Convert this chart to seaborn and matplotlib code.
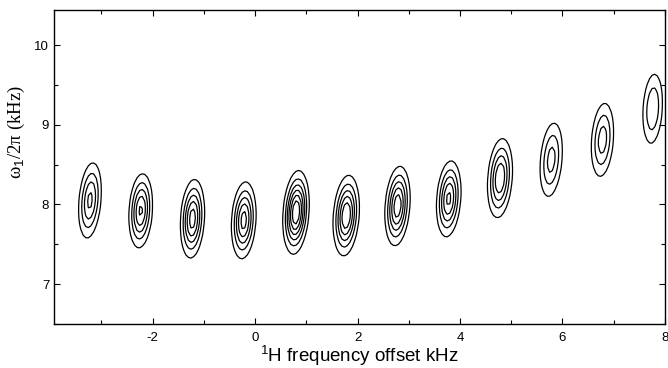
import numpy as np
import matplotlib
matplotlib.use("Agg")
import matplotlib.pyplot as plt
import seaborn as sns

# Peak parameters
peak_x = [-3.22, -2.23, -1.22, -0.22, 0.80, 1.78, 2.78, 3.78, 4.78, 5.78, 6.78, 7.76]
peak_y = [8.05, 7.92, 7.82, 7.80, 7.90, 7.86, 7.98, 8.07, 8.33, 8.56, 8.81, 9.20]
peak_amp = [4.3, 5.2, 5.6, 5.5, 7.0, 6.05, 5.8, 5.3, 5.05, 3.5, 3.6, 3.03]
peak_sx = [0.125, 0.125, 0.125, 0.128, 0.128, 0.132, 0.128, 0.128, 0.132, 0.132, 0.132, 0.125]
peak_sy = [0.275, 0.255, 0.265, 0.260, 0.265, 0.265, 0.265, 0.260, 0.275, 0.290, 0.285, 0.290]
peak_tilt = [0.12, 0.08, 0.08, 0.08, 0.10, 0.10, 0.10, 0.10, 0.10, 0.12, 0.10, 0.08]
contour_levels = [1, 2, 3, 4, 5, 6, 7]

x_ticks = [-2, 0, 2, 4, 6, 8]
y_ticks = [7, 8, 9, 10]
x_label = "$^1$H frequency offset kHz"
y_label = "ω$_1$/2π (kHz)"

sns.set_theme(style="ticks")
plt.rcParams["font.family"] = ["Liberation Sans", "DejaVu Sans"]
plt.rcParams["mathtext.fontset"] = "custom"
plt.rcParams["mathtext.rm"] = "Liberation Sans"
plt.rcParams["mathtext.it"] = "Liberation Sans"
plt.rcParams["axes.unicode_minus"] = False
for k in ["text.color", "axes.labelcolor", "xtick.color", "ytick.color", "axes.edgecolor"]:
    plt.rcParams[k] = "black"

fig = plt.figure(figsize=(6.68, 3.68), dpi=100)
ax = fig.add_axes([0.081, 0.1196, 0.9145, 0.8534])

gx = np.arange(-3.95, 8.1, 0.05)
gy = np.arange(6.5, 10.5, 0.07)
X, Y = np.meshgrid(gx, gy)
Z = np.zeros_like(X)
for px, py, a, sx, sy, t in zip(peak_x, peak_y, peak_amp, peak_sx, peak_sy, peak_tilt):
    dx = (X - px) - t * (Y - py)
    dy = Y - py
    Z += a * np.exp(-0.5 * ((dx / sx) ** 2 + (dy / sy) ** 2))

ax.contour(X, Y, Z, levels=contour_levels, colors="black", linewidths=0.9)

ax.set_xlim(-3.92, 8.0)
ax.set_ylim(6.52, 10.44)
ax.set_xticks(x_ticks)
ax.set_yticks(y_ticks)
ax.set_xticks(np.arange(-3, 9, 1), minor=True)
ax.set_yticks(np.arange(6.5, 10.5, 0.5), minor=True)
ax.tick_params(which="both", direction="in", top=True, right=True, width=0.8, colors="black")
ax.tick_params(which="major", length=4, labelsize=9.5)
ax.tick_params(which="minor", length=3)
ax.tick_params(axis="x", which="major", pad=6)
for s in ax.spines.values():
    s.set_linewidth(1.0)
    s.set_color("black")

ax.set_xlabel(x_label, fontsize=13.5, labelpad=0)
ax.set_ylabel(y_label, fontsize=13.5, family=["Liberation Serif", "DejaVu Serif"])
ax.yaxis.set_label_coords(-0.045, 0.61)

fig.savefig("out.png", dpi=100)
